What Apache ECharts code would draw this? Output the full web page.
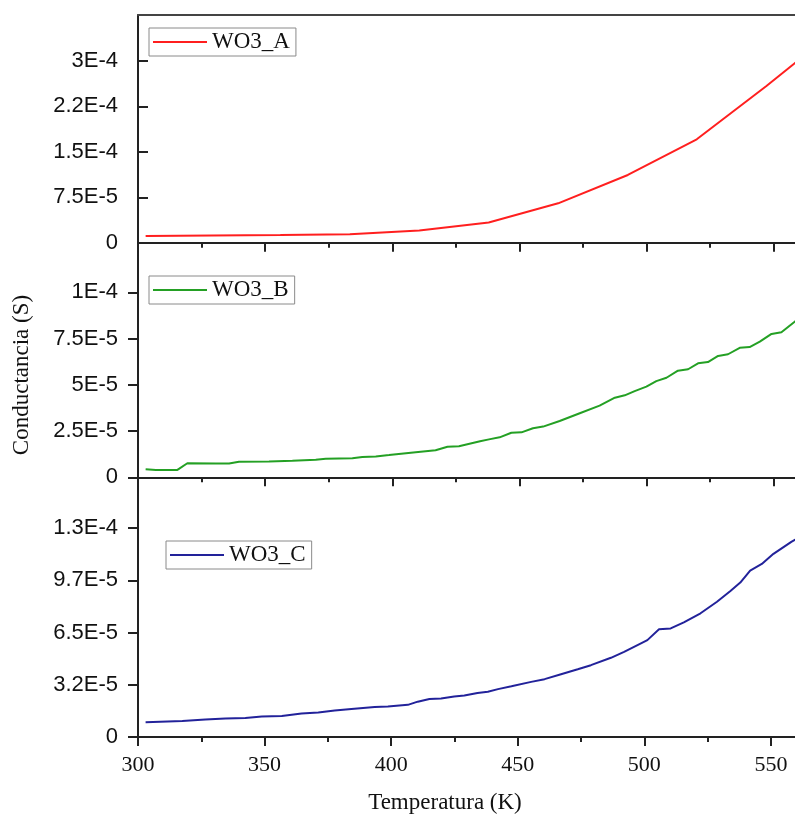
<!DOCTYPE html>
<html>
<head>
<meta charset="utf-8">
<title>Conductancia vs Temperatura</title>
<script src="https://cdn.jsdelivr.net/npm/echarts@6/dist/echarts.min.js"></script>
<style>
  html, body { margin: 0; padding: 0; background: #fff; overflow: hidden; }
  /* the plot area runs a little past the right edge of the window */
  #chart { width: 800px; height: 816px; }
</style>
</head>
<body>
<div id="chart"></div>
<script>
// Temperature (K) and conductance (S) for each WO3 sample
const tempA = [303, 329, 356, 383.3, 410.6, 437.9, 465.2, 492.6, 519.7, 547.1, 574.4];
const condA = [1.11e-5, 1.19e-5, 1.27e-5, 1.40e-5, 2.0e-5, 3.33e-5, 6.5e-5, 1.118e-4, 1.707e-4, 2.587e-4, 3.51e-4];

const tempB = [303, 307, 315.5, 319.4, 330.6, 335.8, 339.7, 351.5, 360.7, 369.9, 373.8, 384.3, 388.2, 393.5,
  398.7, 409.2, 417, 421.7, 426.2, 434.5, 438, 442.2, 446.8, 450.8, 455.3, 459.3, 465.8, 473.7, 481.5, 487.5,
  491.4, 495.3, 499.9, 503.8, 507.8, 512.3, 516.3, 520.2, 524.1, 528.1, 532, 536.6, 540.5, 544.5, 549.1, 553,
  558.2, 562];
const condB = [4.3e-6, 3.9e-6, 4.0e-6, 7.6e-6, 7.5e-6, 7.4e-6, 8.4e-6, 8.6e-6, 9.0e-6, 9.5e-6, 1.0e-5, 1.03e-5,
  1.10e-5, 1.13e-5, 1.2e-5, 1.35e-5, 1.46e-5, 1.65e-5, 1.68e-5, 1.95e-5, 2.05e-5, 2.16e-5, 2.41e-5, 2.43e-5,
  2.65e-5, 2.74e-5, 3.04e-5, 3.46e-5, 3.87e-5, 4.30e-5, 4.43e-5, 4.66e-5, 4.9e-5, 5.2e-5, 5.38e-5, 5.76e-5,
  5.84e-5, 6.16e-5, 6.23e-5, 6.56e-5, 6.65e-5, 7.0e-5, 7.04e-5, 7.33e-5, 7.75e-5, 7.84e-5, 8.41e-5, 8.85e-5];

const tempC = [303, 317.5, 326.6, 334.5, 342.4, 348.9, 356.8, 364.6, 371.2, 377.7, 384.3, 393.5, 398.7, 406.6,
  410.5, 415.1, 419.7, 424.9, 428.9, 434.1, 438.2, 442.2, 447.5, 455.3, 460.6, 467.1, 473.7, 478.9, 486.8, 492,
  497.3, 501.2, 505.8, 510.4, 515.6, 522.2, 528.7, 534, 537.9, 541.8, 546.4, 551, 558.2, 562];
const condC = [9.2e-6, 1.0e-5, 1.09e-5, 1.15e-5, 1.19e-5, 1.27e-5, 1.31e-5, 1.46e-5, 1.52e-5, 1.65e-5, 1.75e-5,
  1.87e-5, 1.9e-5, 2.0e-5, 2.2e-5, 2.37e-5, 2.4e-5, 2.52e-5, 2.58e-5, 2.74e-5, 2.82e-5, 2.98e-5, 3.16e-5, 3.43e-5,
  3.6e-5, 3.91e-5, 4.22e-5, 4.47e-5, 4.93e-5, 5.30e-5, 5.72e-5, 6.03e-5, 6.70e-5, 6.76e-5, 7.14e-5, 7.70e-5,
  8.42e-5, 9.09e-5, 9.61e-5, 1.036e-4, 1.077e-4, 1.14e-4, 1.216e-4, 1.25e-4];

const seriesNames = ['WO3_A', 'WO3_B', 'WO3_C'];

// Tick positions and their printed labels for each panel
const yTicksA = [0, 7.5e-5, 1.5e-4, 2.25e-4, 3e-4];
const yLabelsA = ['0', '7.5E-5', '1.5E-4', '2.2E-4', '3E-4'];
const yTicksB = [0, 2.5e-5, 5e-5, 7.5e-5, 1e-4];
const yLabelsB = ['0', '2.5E-5', '5E-5', '7.5E-5', '1E-4'];
const yTicksC = [0, 3.25e-5, 6.5e-5, 9.75e-5, 1.3e-4];
const yLabelsC = ['0', '3.2E-5', '6.5E-5', '9.7E-5', '1.3E-4'];
const xTickStep = 50;

const zip = (xs, ys) => xs.map((x, i) => [x, ys[i]]);
const labelFor = (ticks, labels) => v => {
  const i = ticks.findIndex(t => Math.abs(t - v) < 1e-9);
  return i >= 0 ? labels[i] : '';
};

const SERIF = "'Liberation Serif', 'Times New Roman', serif";
const SANS = "'Liberation Sans', Arial, sans-serif";
const AXIS_COLOR = '#222';

const xMin = 300, xMax = 560.3;
const grids = [
  { left: 138, right: 0, top: 15, height: 241 },
  { left: 138, right: 0, top: 256, height: 240 },
  { left: 138, right: 0, top: 496, height: 241 }
];

function xAxisFor(idx, withLabels) {
  return {
    type: 'value', gridIndex: idx, min: xMin, max: xMax, interval: xTickStep,
    axisLine: { show: true, lineStyle: { color: AXIS_COLOR, width: 2 } },
    axisTick: { show: true, inside: false, length: 9, lineStyle: { color: AXIS_COLOR, width: 2 } },
    minorTick: { show: true, splitNumber: 2, length: 5, lineStyle: { color: AXIS_COLOR, width: 2 } },
    splitLine: { show: false },
    axisLabel: {
      show: withLabels, margin: 17, fontFamily: SERIF, fontSize: 22, color: '#111',
      formatter: v => (Math.abs(v % xTickStep) < 1e-6 ? String(v) : '')
    }
  };
}

function yAxisFor(idx, min, max, ticks, labels, inside) {
  return {
    type: 'value', gridIndex: idx, min: min, max: max,
    axisLine: { show: true, lineStyle: { color: AXIS_COLOR, width: 2 } },
    axisTick: { show: true, inside: inside, length: 10, customValues: ticks,
      lineStyle: { color: AXIS_COLOR, width: 2 } },
    splitLine: { show: false },
    axisLabel: {
      customValues: ticks, margin: 20, fontFamily: SANS, fontSize: 22, color: '#111',
      formatter: labelFor(ticks, labels)
    }
  };
}

function legendFor(name, left, top) {
  return {
    data: [name], left: left, top: top, orient: 'horizontal',
    selectedMode: false, icon: 'rect',
    borderColor: '#8a8a8a', borderWidth: 1, padding: [2, 6, 2, 4],
    itemWidth: 54, itemHeight: 2, itemGap: 0,
    textStyle: { fontFamily: SERIF, fontSize: 23, color: '#111', lineHeight: 24 }
  };
}

function lineSeries(name, idx, data, color) {
  return {
    name: name, type: 'line', xAxisIndex: idx, yAxisIndex: idx,
    data: data, symbol: 'none', smooth: false, clip: true,
    lineStyle: { color: color, width: 2 }, itemStyle: { color: color },
    emphasis: { disabled: true }
  };
}

const chart = echarts.init(document.getElementById('chart'), null, { renderer: 'canvas' });
chart.setOption({
  animation: false,
  backgroundColor: '#ffffff',
  grid: grids,
  xAxis: [
    xAxisFor(0, false),
    xAxisFor(1, false),
    xAxisFor(2, true),
    // frame line along the top of the first panel
    { type: 'value', gridIndex: 0, position: 'top', min: xMin, max: xMax,
      axisLine: { show: true, lineStyle: { color: '#444', width: 2 } },
      axisTick: { show: false }, axisLabel: { show: false }, splitLine: { show: false } }
  ],
  yAxis: [
    yAxisFor(0, -2.196e-5, 3.759e-4, yTicksA, yLabelsA, true),
    yAxisFor(1, -1.011e-5, 1.196e-4, yTicksB, yLabelsB, false),
    yAxisFor(2, 0, 1.5e-4, yTicksC, yLabelsC, false)
  ],
  legend: [
    legendFor(seriesNames[0], 149, 28),
    legendFor(seriesNames[1], 149, 276),
    legendFor(seriesNames[2], 166, 541)
  ],
  series: [
    lineSeries(seriesNames[0], 0, zip(tempA, condA), '#ff1f1f'),
    lineSeries(seriesNames[1], 1, zip(tempB, condB), '#24a024'),
    lineSeries(seriesNames[2], 2, zip(tempC, condC), '#22229a')
  ],
  graphic: [
    { type: 'text', x: 445, y: 803,
      style: { text: 'Temperatura (K)', font: '23px ' + SERIF, fill: '#111',
        textAlign: 'center', textVerticalAlign: 'middle' } },
    { type: 'text', x: 22, y: 375, rotation: Math.PI / 2,
      style: { text: 'Conductancia (S)', font: '23px ' + SERIF, fill: '#111',
        textAlign: 'center', textVerticalAlign: 'middle' } }
  ]
});
</script>
</body>
</html>
